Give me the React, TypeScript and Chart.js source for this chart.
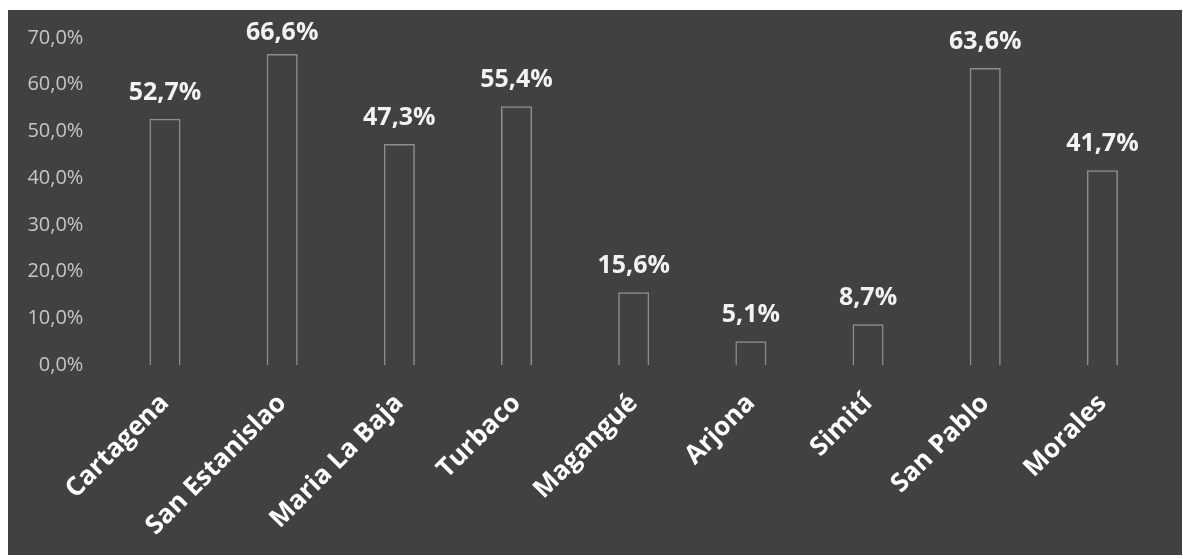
import React, { useEffect, useRef } from "react";
import { Chart, registerables } from "chart.js";

Chart.register(...registerables);

const categories = ["Cartagena", "San Estanislao", "Maria La Baja", "Turbaco", "Magangué", "Arjona", "Simití", "San Pablo", "Morales"];
const values = [52.7, 66.6, 47.3, 55.4, 15.6, 5.1, 8.7, 63.6, 41.7];
const yTicks = [0, 10, 20, 30, 40, 50, 60, 70];

const FONT = "'Open Sans', 'DejaVu Sans', sans-serif";
const fmt = (v: number) => v.toFixed(1).replace(".", ",") + "%";

const W = 1174;
const H = 545;

const labelPlugin = {
  id: "valueLabels",
  afterDatasetsDraw(chart: any) {
    const ctx = chart.ctx;
    const meta = chart.getDatasetMeta(0);
    ctx.save();
    ctx.font = `bold 25px ${FONT}`;
    ctx.fillStyle = "#f2f2f2";
    ctx.textAlign = "center";
    ctx.textBaseline = "middle";
    meta.data.forEach((el: any, i: number) => {
      const y = Math.max(el.y - 26, 23);
      ctx.fillText(fmt(values[i]), el.x, y);
    });
    ctx.restore();
  },
};

export default function App() {
  const ref = useRef<HTMLCanvasElement>(null);
  useEffect(() => {
    if (!ref.current) return;
    const chart = new Chart(ref.current, {
      type: "bar",
      data: {
        labels: categories,
        datasets: [
          {
            data: values,
            backgroundColor: "rgba(0,0,0,0)",
            borderColor: "#8e8e8e",
            borderWidth: 1.5,
            barPercentage: 0.265,
            categoryPercentage: 1,
          },
        ],
      },
      options: {
        animation: false,
        responsive: false,
        maintainAspectRatio: false,
        layout: { padding: { top: 28, right: 21, left: 0, bottom: 0 } },
        plugins: { legend: { display: false }, tooltip: { enabled: false } },
        scales: {
          x: {
            grid: { display: false, drawTicks: false },
            border: { display: false },
            ticks: {
              color: "#ffffff",
              font: { family: FONT, size: 26, weight: "bold" },
              maxRotation: 45,
              minRotation: 45,
              padding: 23,
              autoSkip: false,
            },
            afterFit: (s: any) => {
              s.height = 190;
              s.paddingLeft = 0;
              s.paddingRight = 0;
            },
          },
          y: {
            min: 0,
            max: 70,
            grid: { display: false, drawTicks: false },
            border: { display: false },
            afterBuildTicks: (s: any) => {
              s.ticks = yTicks.map((v) => ({ value: v }));
            },
            ticks: {
              color: "#c6c6c6",
              font: { family: FONT, size: 20 },
              padding: 23,
              callback: (v: any) => fmt(Number(v)),
            },
            afterFit: (s: any) => {
              s.width = 98.4;
              s.paddingTop = 0;
              s.paddingBottom = 0;
            },
          },
        },
      },
      plugins: [labelPlugin],
    });
    return () => chart.destroy();
  }, []);
  return (
    <div style={{ position: "absolute", left: 8, top: 10, width: W, height: H, background: "#414141" }}>
      <canvas ref={ref} width={W} height={H} style={{ display: "block" }} />
    </div>
  );
}
